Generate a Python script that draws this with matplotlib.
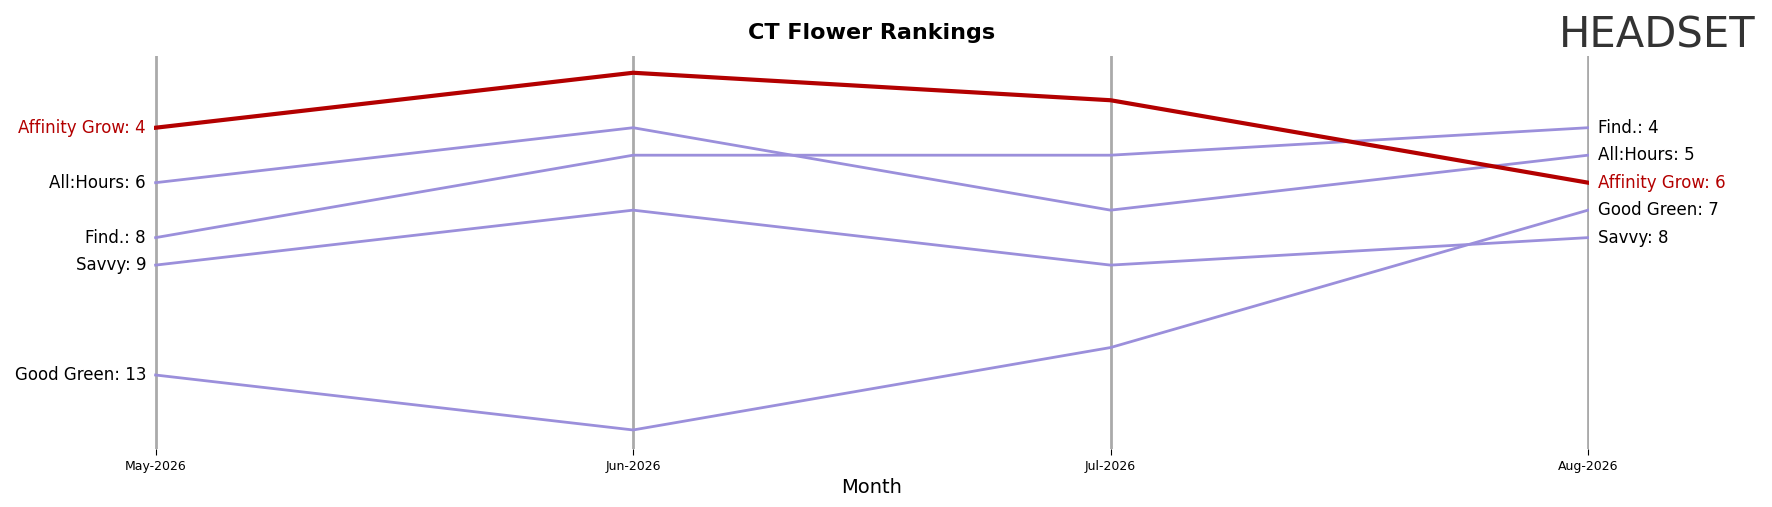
import matplotlib
matplotlib.use("Agg")
import matplotlib.pyplot as plt

months = ["May-2026", "Jun-2026", "Jul-2026", "Aug-2026"]
brands = ["Affinity Grow", "Find.", "All:Hours", "Savvy", "Good Green"]
ranks = {
    "Affinity Grow": [4, 2, 3, 6],
    "Find.": [8, 5, 5, 4],
    "All:Hours": [6, 4, 7, 5],
    "Savvy": [9, 7, 9, 8],
    "Good Green": [13, 15, 12, 7],
}
highlight = "Affinity Grow"

fig = plt.figure(figsize=(17.72, 5.07), dpi=100)
ax = fig.add_axes([0.087, 0.114, 0.81, 0.775])
x = list(range(len(months)))
for xi in x:
    ax.axvline(xi, color="#aaaaaa", lw=2, zorder=0)
for b in brands:
    hl = b == highlight
    ax.plot(x, ranks[b], color="#b30000" if hl else "#9b8fdb",
            lw=3 if hl else 2, zorder=3 if hl else 2)
    c = "#b30000" if hl else "black"
    ax.text(-0.02, ranks[b][0], f"{b}: {ranks[b][0]}", ha="right", va="center", fontsize=12, color=c)
    ax.text(3.02, ranks[b][-1], f"{b}: {ranks[b][-1]}", ha="left", va="center", fontsize=12, color=c)
ax.set_ylim(15.7, 1.4)
ax.set_xlim(-0.003, 3.003)
ax.set_xticks(x)
ax.set_xticklabels(months, fontsize=9)
ax.set_yticks([])
ax.tick_params(axis="x", length=4)
for s in ax.spines.values():
    s.set_visible(False)
ax.set_xlabel("Month", fontsize=14)
fig.text(0.492, 0.935, "CT Flower Rankings", ha="center", va="center", fontsize=16, fontweight="bold")
fig.text(0.935, 0.93, "HEADSET", ha="center", va="center", fontsize=30, color="#333333")
fig.savefig("out.png", dpi=100)
